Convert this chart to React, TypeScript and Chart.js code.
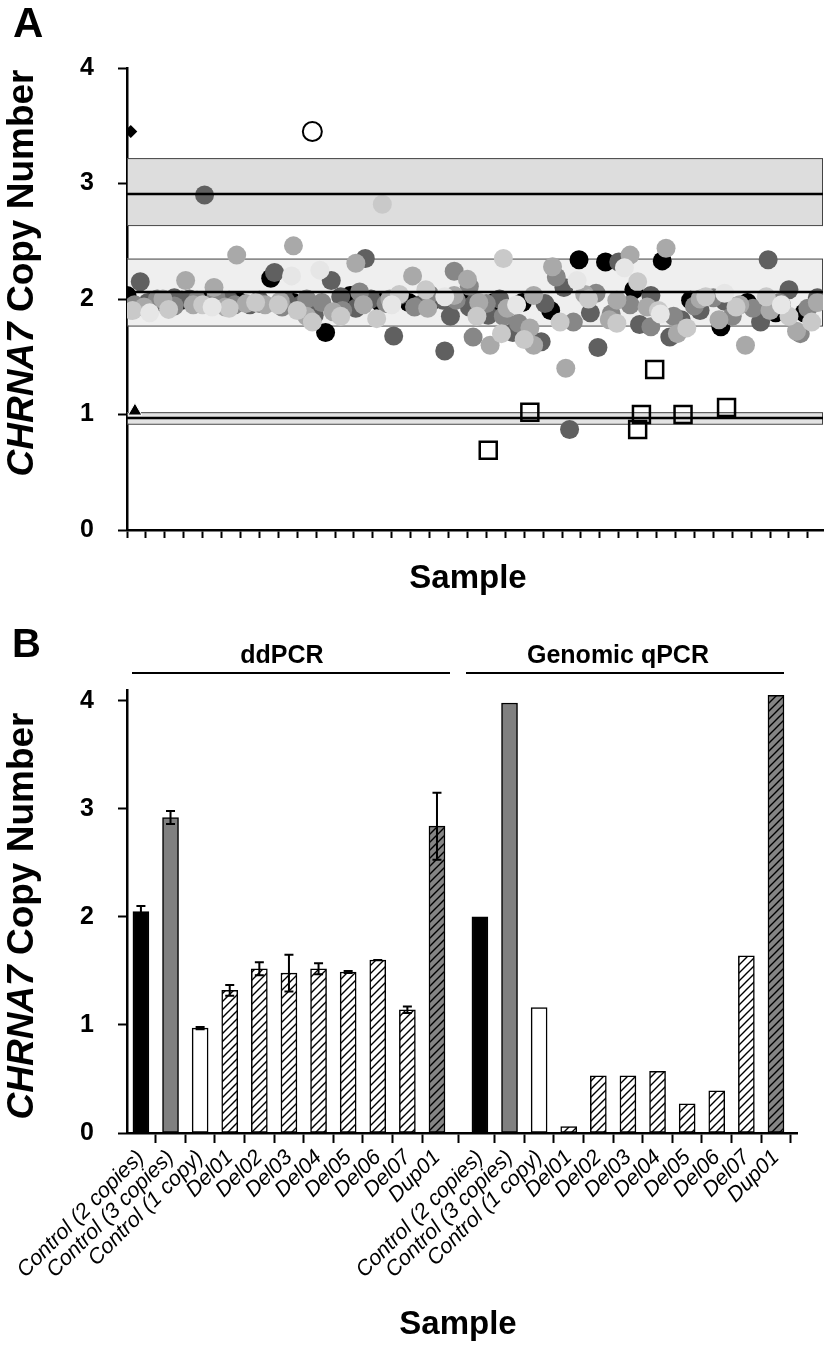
import React, { useEffect, useRef } from "react";
import { Chart, registerables } from "chart.js";
Chart.register(...registerables);

const FONT = "'Liberation Sans', Arial, Helvetica, sans-serif";
Chart.defaults.font.family = FONT;

// ---------------- Panel A data ----------------
const xMaxA = 368;
const xTickStepA = 10;
const bandLow = [0.92, 1.77, 2.64];
const bandHigh = [1.02, 2.35, 3.22];
const bandMean = [0.97, 2.06, 2.91];
const bandFill = ["#e3e3e3", "#efefef", "#dddddd"];

const blackPts: number[][] = [
  [0, 2.03], [14, 1.98], [29, 1.99], [43, 1.98], [59, 1.98], [76, 2.18], [88, 1.97], [105, 1.71],
  [118, 2.03], [134, 1.97], [149, 1.97], [162, 1.99], [179, 1.99], [194, 1.97], [209, 1.97],
  [224, 1.90], [239, 2.34], [253, 2.32], [268, 2.08], [283, 2.33], [298, 1.99], [314, 1.76],
  [328, 1.97], [343, 1.88], [358, 1.88],
];
const darkPts: number[][] = [
  [7, 2.15], [41, 2.90], [78, 2.23], [11, 1.97], [20, 1.96], [33, 2.0], [48, 1.96], [65, 1.95],
  [70, 1.99], [84, 1.98], [92, 1.95], [99, 1.86], [108, 2.16], [126, 2.35], [113, 2.02], [141, 1.68],
  [129, 2.0], [144, 2.03], [155, 1.95], [167, 1.99], [168, 1.55], [171, 1.85], [181, 1.93], [191, 1.86],
  [204, 1.71], [219, 1.63], [231, 2.10], [245, 1.88], [249, 1.58], [260, 2.32], [234, 0.87], [271, 1.78],
  [287, 1.67], [293, 1.82], [303, 1.90], [316, 1.98], [335, 1.80], [339, 2.34], [350, 2.08], [365, 2.01],
  [346, 1.95], [277, 2.03], [221, 1.96], [197, 2.0], [184, 1.97], [121, 1.92], [54, 1.99], [25, 2.01],
];
const midPts: number[][] = [
  [4, 1.95], [16, 2.0], [25, 1.94], [37, 1.99], [47, 2.02], [57, 1.95], [70, 1.96], [82, 1.93],
  [95, 2.0], [103, 1.97], [114, 1.90], [123, 2.06], [137, 1.96], [152, 1.93], [160, 2.04], [174, 1.99],
  [183, 1.67], [190, 1.96], [199, 1.85], [207, 1.79], [227, 2.19], [236, 1.80], [248, 2.05], [256, 1.87],
  [266, 1.95], [277, 1.76], [289, 1.85], [300, 1.94], [310, 2.01], [320, 1.85], [331, 1.92], [356, 1.70],
  [345, 1.97], [360, 1.92], [181, 2.11], [173, 2.24],
];
const lightPts: number[][] = [
  [9, 1.93], [19, 2.0], [31, 2.16], [35, 1.95], [46, 2.10], [52, 1.93], [58, 2.38], [63, 1.96],
  [73, 1.95], [88, 2.46], [81, 1.98], [95, 1.85], [109, 1.89], [121, 2.31], [125, 1.95], [139, 2.0],
  [151, 2.20], [159, 1.92], [173, 2.03], [180, 2.17], [186, 1.97], [192, 1.60], [201, 1.92], [213, 1.75],
  [215, 1.60], [225, 2.28], [232, 1.40], [242, 2.04], [255, 1.82], [266, 2.38], [285, 2.44], [275, 1.93],
  [291, 1.70], [303, 2.0], [313, 1.82], [324, 1.95], [327, 1.60], [340, 1.90], [354, 1.72], [365, 1.97],
  [259, 1.99], [215, 2.03],
];
const lighterPts: number[][] = [
  [3, 1.90], [22, 1.91], [40, 1.95], [54, 1.92], [68, 1.97], [80, 1.95], [90, 1.90], [98, 1.80],
  [113, 1.85], [132, 1.83], [144, 2.04], [158, 2.08], [185, 1.85], [198, 1.70], [199, 2.35], [210, 1.65],
  [229, 1.80], [244, 2.0], [259, 1.79], [270, 2.15], [281, 1.90], [296, 1.75], [306, 2.02], [322, 1.93],
  [338, 2.02], [350, 1.85], [362, 1.80], [135, 2.82],
];
const palePts: number[][] = [
  [12, 1.88], [45, 1.93], [87, 2.20], [102, 2.25], [140, 1.95], [168, 2.02], [206, 1.95], [238, 2.16],
  [263, 2.27], [282, 1.87], [316, 2.05], [346, 1.95],
];
const threeCopyCtrl: number[][] = [[98, 3.45]];
const diamondCtrl: number[][] = [[2, 3.45]];
const oneCopyCtrl: number[][] = [[4.2, 1.03]];
const deletionPts: number[][] = [
  [191, 0.69], [213, 1.02], [279, 1.39], [272, 1.0], [270, 0.87], [294, 1.0], [317, 1.06],
];

// ---------------- Panel B data ----------------
const sampleLabels = [
  "Control (2 copies)", "Control (3 copies)", "Control (1 copy)", "Del01", "Del02", "Del03",
  "Del04", "Del05", "Del06", "Del07", "Dup01",
];
const ddpcrValues = [2.05, 2.92, 0.97, 1.32, 1.52, 1.48, 1.52, 1.49, 1.6, 1.14, 2.84];
const ddpcrErrors = [0.05, 0.06, 0.01, 0.05, 0.06, 0.17, 0.05, 0.01, 0, 0.03, 0.31];
const qpcrValues = [2.0, 3.98, 1.16, 0.06, 0.53, 0.53, 0.57, 0.27, 0.39, 1.64, 4.05];
const sampleKind = ["black", "gray", "white", "hatch", "hatch", "hatch", "hatch", "hatch", "hatch", "hatch", "hatchGray"];
const qpcrGroupOffset = 11.45;
const xMinB = -0.47;
const xMaxB = 22.16;
const yMaxB = 4.1;

const toXY = (pts: number[][]) => pts.map(([x, y]) => ({ x, y }));

function makeHatch(bg: string) {
  const p = 8;
  const c = document.createElement("canvas");
  c.width = p;
  c.height = p;
  const g = c.getContext("2d")!;
  g.fillStyle = bg;
  g.fillRect(0, 0, p, p);
  g.strokeStyle = "#000";
  g.lineWidth = 1.4;
  g.beginPath();
  g.moveTo(-1, 1); g.lineTo(1, -1);
  g.moveTo(0, p); g.lineTo(p, 0);
  g.moveTo(p - 1, p + 1); g.lineTo(p + 1, p - 1);
  g.stroke();
  return g.createPattern(c, "repeat")!;
}

const bandsPlugin = {
  id: "bands",
  beforeDatasetsDraw(chart: any) {
    const { ctx } = chart;
    const x = chart.scales.x, y = chart.scales.y;
    const x0 = x.getPixelForValue(0), x1 = x.getPixelForValue(xMaxA);
    ctx.save();
    bandLow.forEach((lo, i) => {
      const yt = y.getPixelForValue(bandHigh[i]);
      const yb = y.getPixelForValue(lo);
      ctx.fillStyle = bandFill[i];
      ctx.fillRect(x0, yt, x1 - x0, yb - yt);
      ctx.strokeStyle = "#444";
      ctx.lineWidth = 1;
      ctx.strokeRect(x0 + 0.5, yt + 0.5, x1 - x0 - 1, yb - yt);
    });
    ctx.restore();
  },
  afterDatasetsDraw(chart: any) {
    const { ctx } = chart;
    const x = chart.scales.x, y = chart.scales.y;
    const x0 = x.getPixelForValue(0), x1 = x.getPixelForValue(xMaxA);
    ctx.save();
    ctx.strokeStyle = "#000";
    ctx.lineWidth = 2.5;
    bandMean.forEach((m) => {
      const py = y.getPixelForValue(m);
      ctx.beginPath();
      ctx.moveTo(x0, py);
      ctx.lineTo(x1, py);
      ctx.stroke();
    });
    ctx.restore();
  },
};

const errorPlugin = {
  id: "errbars",
  afterDatasetsDraw(chart: any) {
    const { ctx } = chart;
    const y = chart.scales.y;
    const meta = chart.getDatasetMeta(0);
    ctx.save();
    ctx.strokeStyle = "#000";
    ctx.lineWidth = 2;
    ddpcrValues.forEach((v, i) => {
      const e = ddpcrErrors[i];
      const px = meta.data[i].x;
      const t = y.getPixelForValue(v + e);
      const b = y.getPixelForValue(v - e);
      ctx.beginPath();
      ctx.moveTo(px, t); ctx.lineTo(px, b);
      ctx.moveTo(px - 4.5, t); ctx.lineTo(px + 4.5, t);
      ctx.moveTo(px - 4.5, b); ctx.lineTo(px + 4.5, b);
      ctx.stroke();
    });
    ctx.restore();
  },
};

const yTickFont = { size: 25, weight: "bold" as const, family: FONT };

export default function App() {
  const refA = useRef<HTMLCanvasElement>(null);
  const refB = useRef<HTMLCanvasElement>(null);

  useEffect(() => {
    const circle = (pts: number[][], color: string, order: number) => ({
      data: toXY(pts),
      backgroundColor: color,
      borderWidth: 0,
      pointRadius: 9.5,
      pointHoverRadius: 9.5,
      order,
    });
    const chartA = new Chart(refA.current!, {
      type: "scatter",
      data: {
        datasets: [
          circle(blackPts, "#000000", 20),
          circle(darkPts, "#606060", 19),
          circle(midPts, "#878787", 18),
          circle(lightPts, "#a9a9a9", 17),
          circle(lighterPts, "#c9c9c9", 16),
          circle(palePts, "#e6e6e6", 15),
          { data: toXY(threeCopyCtrl), pointStyle: "circle", pointRadius: 9.5, backgroundColor: "#fff", borderColor: "#000", borderWidth: 2, order: 1 },
          { data: toXY(diamondCtrl), pointStyle: "rectRot", pointRadius: 6.5, backgroundColor: "#000", borderWidth: 0, order: 1 },
          { data: toXY(oneCopyCtrl), pointStyle: "triangle", pointRadius: 8, backgroundColor: "#000", borderColor: "#fff", borderWidth: 1, order: 1 },
          { data: toXY(deletionPts), pointStyle: "rect", pointRadius: 12, backgroundColor: "rgba(0,0,0,0)", borderColor: "#000", borderWidth: 2.5, order: 1 },
        ] as any,
      },
      options: {
        responsive: false,
        animation: false,
        events: [],
        layout: { autoPadding: false, padding: { left: 0, right: 3, top: 68, bottom: 0 } },
        plugins: { legend: { display: false }, tooltip: { enabled: false } },
        scales: {
          x: {
            type: "linear",
            min: 0,
            max: xMaxA,
            afterFit: (s: any) => { s.height = 70; },
            ticks: { display: false, stepSize: xTickStepA, includeBounds: false },
            grid: { drawOnChartArea: false, drawTicks: true, tickLength: 8, tickColor: "#000", tickWidth: 2 },
            border: { display: true, color: "#000", width: 2.5 },
          },
          y: {
            min: 0,
            max: 4,
            afterFit: (s: any) => { s.width = 127; },
            ticks: { stepSize: 1, color: "#000", font: yTickFont, padding: 24 },
            grid: { drawOnChartArea: false, drawTicks: true, tickLength: 9, tickColor: "#000", tickWidth: 2 },
            border: { display: true, color: "#000", width: 2.5 },
          },
        },
      } as any,
      plugins: [bandsPlugin],
    });

    const hatchWhite = makeHatch("#ffffff");
    const hatchGray = makeHatch("#858585");
    const fillFor = (k: string) =>
      k === "black" ? "#000000" : k === "gray" ? "#808080" : k === "white" ? "#ffffff" : k === "hatch" ? hatchWhite : hatchGray;
    const slots = [
      ...sampleLabels.map((_, i) => i),
      ...sampleLabels.map((_, i) => i + qpcrGroupOffset),
    ];
    const allLabels = [...sampleLabels, ...sampleLabels];
    const allValues = [...ddpcrValues, ...qpcrValues];
    const allFills = [...sampleKind, ...sampleKind].map(fillFor);

    const chartB = new Chart(refB.current!, {
      type: "bar",
      data: {
        datasets: [
          {
            data: slots.map((s, i) => ({ x: s, y: allValues[i] })),
            backgroundColor: allFills,
            borderColor: "#000",
            borderWidth: 1.5,
            borderSkipped: false,
            barThickness: 16,
          },
        ] as any,
      },
      options: {
        responsive: false,
        animation: false,
        events: [],
        layout: { autoPadding: false, padding: { left: 0, right: 29, top: 90, bottom: 0 } },
        plugins: { legend: { display: false }, tooltip: { enabled: false } },
        scales: {
          x: {
            type: "linear",
            min: xMinB,
            max: xMaxB,
            offset: false,
            afterFit: (s: any) => { s.height = 218; },
            afterBuildTicks: (s: any) => { s.ticks = slots.map((v) => ({ value: v })); },
            ticks: {
              autoSkip: false,
              minRotation: 45,
              maxRotation: 45,
              padding: 2,
              color: "#000",
              font: { size: 21.5, style: "italic", family: FONT },
              callback: (_v: any, i: number) => allLabels[i],
            },
            grid: { drawOnChartArea: false, drawTicks: true, tickLength: 10, tickColor: "#000", tickWidth: 2 },
            border: { display: true, color: "#000", width: 2.5 },
          },
          y: {
            min: 0,
            max: yMaxB,
            afterFit: (s: any) => { s.width = 127; },
            ticks: { stepSize: 1, includeBounds: false, color: "#000", font: yTickFont, padding: 24 },
            grid: { drawOnChartArea: false, drawTicks: true, tickLength: 9, tickColor: "#000", tickWidth: 2 },
            border: { display: true, color: "#000", width: 2.5 },
          },
        },
      } as any,
      plugins: [errorPlugin],
    });

    return () => {
      chartA.destroy();
      chartB.destroy();
    };
  }, []);

  const abs = (o: React.CSSProperties): React.CSSProperties => ({ position: "absolute", margin: 0, ...o });
  const yTitle = (cy: number): React.CSSProperties =>
    abs({
      left: 20.5 - 260,
      top: cy - 19,
      width: 520,
      height: 38,
      lineHeight: "38px",
      fontSize: 37,
      fontWeight: "bold",
      textAlign: "center",
      whiteSpace: "nowrap",
      transform: "rotate(-90deg)",
      color: "#000",
    });

  return (
    <div style={{ position: "absolute", left: 0, top: 0, width: 826, height: 1351, background: "#fff", fontFamily: FONT, overflow: "hidden" }}>
      <canvas ref={refA} width={826} height={600} style={abs({ left: 0, top: 0, display: "block" })} />
      <canvas ref={refB} width={826} height={751} style={abs({ left: 0, top: 600, display: "block" })} />

      <div style={abs({ left: 13, top: 2, fontSize: 42, lineHeight: "42px", fontWeight: "bold" })}>A</div>
      <div style={abs({ left: 12, top: 623, fontSize: 40, lineHeight: "40px", fontWeight: "bold" })}>B</div>

      <div style={yTitle(273)}><i>CHRNA7</i> Copy Number</div>
      <div style={yTitle(916)}><i>CHRNA7</i> Copy Number</div>

      <div style={abs({ left: 468 - 150, top: 560, width: 300, textAlign: "center", fontSize: 33, lineHeight: "33px", fontWeight: "bold" })}>Sample</div>
      <div style={abs({ left: 458 - 150, top: 1306, width: 300, textAlign: "center", fontSize: 33, lineHeight: "33px", fontWeight: "bold" })}>Sample</div>

      <div style={abs({ left: 282 - 150, top: 642, width: 300, textAlign: "center", fontSize: 25, lineHeight: "25px", fontWeight: "bold" })}>ddPCR</div>
      <div style={abs({ left: 618 - 150, top: 642, width: 300, textAlign: "center", fontSize: 25, lineHeight: "25px", fontWeight: "bold" })}>Genomic qPCR</div>
      <div style={abs({ left: 132, top: 671.5, width: 318, height: 2.5, background: "#000" })} />
      <div style={abs({ left: 466, top: 671.5, width: 318, height: 2.5, background: "#000" })} />
    </div>
  );
}
